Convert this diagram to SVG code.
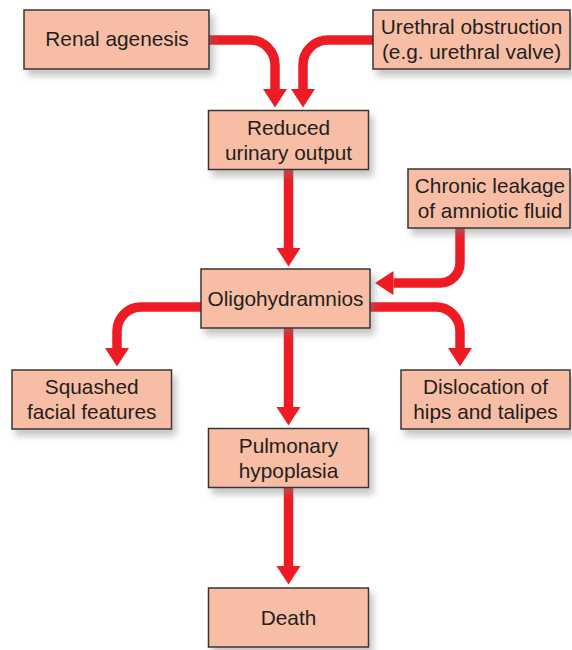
<svg xmlns="http://www.w3.org/2000/svg" width="572" height="650" viewBox="0 0 572 650">
  <style>
    .box { fill: #F8BDA5; stroke: #3A3535; stroke-width: 1.5; filter: url(#shadow); }
    .lbl { font-family: "Liberation Sans", sans-serif; font-size: 20.8px; fill: #231F20; text-anchor: middle; }
    .arrow { fill: none; stroke: #ED1C24; stroke-width: 9.5; marker-end: url(#head); }
  </style>
  <defs>
    <filter id="shadow" x="-20%" y="-20%" width="150%" height="160%">
      <feDropShadow dx="4" dy="6" stdDeviation="3.5" flood-color="#7a7a7a" flood-opacity="0.45"/>
    </filter>
    <marker id="head" markerUnits="userSpaceOnUse" markerWidth="19" markerHeight="25" refX="0" refY="12.5" orient="auto" viewBox="0 0 19 25">
      <path d="M0,0.5 L18.5,12.5 L0,24.5 Z" fill="#ED1C24"/>
    </marker>
  </defs>
  <rect width="572" height="650" fill="#FFFFFF"/>

  <g id="connectors">
    <path class="arrow" d="M209,40 H250 A25,25 0 0 1 275,65 V89"/>
    <path class="arrow" d="M373,40 H328 A25,25 0 0 0 303,65 V89"/>
    <path class="arrow" d="M288.5,170 V248"/>
    <path class="arrow" d="M460,228 V263 A20,20 0 0 1 440,283 H393.5"/>
    <path class="arrow" d="M201,307 H141 A24,24 0 0 0 117,331 V348"/>
    <path class="arrow" d="M370,307 H436 A24,24 0 0 1 460,331 V348"/>
    <path class="arrow" d="M288.5,328 V407"/>
    <path class="arrow" d="M288.5,488 V566"/>
  </g>

  <g id="renal-agenesis">
    <rect class="box" x="24" y="10" width="185" height="59"/>
    <text class="lbl" x="117" y="46">Renal agenesis</text>
  </g>
  <g id="urethral-obstruction">
    <rect class="box" x="373" y="10" width="197" height="59"/>
    <text class="lbl" x="471.5" y="34">Urethral obstruction</text>
    <text class="lbl" x="471.5" y="59">(e.g. urethral valve)</text>
  </g>
  <g id="reduced-urinary-output">
    <rect class="box" x="208.5" y="110.5" width="160" height="59"/>
    <text class="lbl" x="288.5" y="134.5">Reduced</text>
    <text class="lbl" x="288.5" y="159.5">urinary output</text>
  </g>
  <g id="chronic-leakage">
    <rect class="box" x="408" y="169" width="162" height="59"/>
    <text class="lbl" x="490" y="193">Chronic leakage</text>
    <text class="lbl" x="490" y="218">of amniotic fluid</text>
  </g>
  <g id="oligohydramnios">
    <rect class="box" x="201" y="269" width="169" height="59"/>
    <text class="lbl" x="285.5" y="305.5">Oligohydramnios</text>
  </g>
  <g id="squashed-facial-features">
    <rect class="box" x="12" y="370" width="159.5" height="59"/>
    <text class="lbl" x="91.7" y="394">Squashed</text>
    <text class="lbl" x="91.7" y="419">facial features</text>
  </g>
  <g id="dislocation-of-hips">
    <rect class="box" x="401" y="370" width="169" height="59"/>
    <text class="lbl" x="485.5" y="394">Dislocation of</text>
    <text class="lbl" x="485.5" y="419">hips and talipes</text>
  </g>
  <g id="pulmonary-hypoplasia">
    <rect class="box" x="208.5" y="428.5" width="160" height="59"/>
    <text class="lbl" x="288.5" y="452.5">Pulmonary</text>
    <text class="lbl" x="288.5" y="477.5">hypoplasia</text>
  </g>
  <g id="death">
    <rect class="box" x="208.5" y="588" width="160" height="59"/>
    <text class="lbl" x="288.5" y="624.5">Death</text>
  </g>
</svg>
